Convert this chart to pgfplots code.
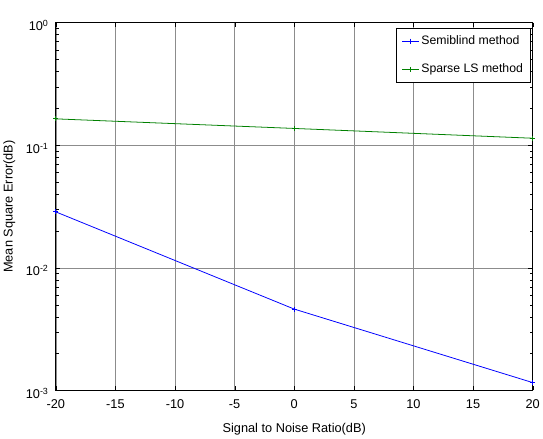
\documentclass[border=0pt]{standalone}
\usepackage{fontspec}
\setmainfont{Liberation Sans}
\usepackage{pgfplots}
\pgfplotsset{compat=1.18}
\definecolor{mblue}{rgb}{0,0,1}
\definecolor{mgreen}{rgb}{0,0.5,0}
\begin{document}
\begin{tikzpicture}
\begin{axis}[
  name=main,
  scale only axis,
  width=486pt, height=375pt,
  ymode=log,
  xmin=-20, xmax=20, ymin=1e-3, ymax=1,
  xtick={-20,-15,...,20},
  ytick={1e-3,1e-2,1e-1,1},
  yticklabels={10\textsuperscript{-3},10\textsuperscript{-2},10\textsuperscript{-1},10\textsuperscript{0}},
  yticklabel style={font=\fontsize{13}{15}\selectfont, xshift=-4pt, yshift=-3pt},
  xticklabel style={font=\fontsize{13}{15}\selectfont, yshift=-6pt},
  /pgf/number format/assume math mode=true,
  grid=major,
  major grid style={black!45, line width=0.6pt},
  axis line style={line width=1.2pt},
  tick style={black},
  tick align=inside,
  minor tick num=0,
  xlabel={Signal to Noise Ratio(dB)},
  ylabel={Mean Square Error(dB)},
  xlabel style={yshift=-8pt},
  ylabel style={yshift=4pt},
  label style={font=\fontsize{13}{15}\selectfont},
  legend style={at={(0.997,0.986)}, anchor=north east, font=\fontsize{12.5}{15}\selectfont, draw=black, line width=0.9pt, inner sep=6pt, row sep=14pt},
  legend cell align=left,
]
\addplot[mblue, mark=+, mark size=2.5pt, line width=0.8pt] coordinates {(-20,0.0286) (0,0.00461) (20,0.00116)};
\addplot[mgreen, mark=+, mark size=2.5pt, line width=0.8pt] coordinates {(-20,0.164) (0,0.137) (20,0.114)};
\legend{Semiblind method, Sparse LS method}
\end{axis}
\path (main.north west) ++(0,23pt) coordinate (topgap);
\path (topgap) -- (main.north east);
\end{tikzpicture}
\end{document}
